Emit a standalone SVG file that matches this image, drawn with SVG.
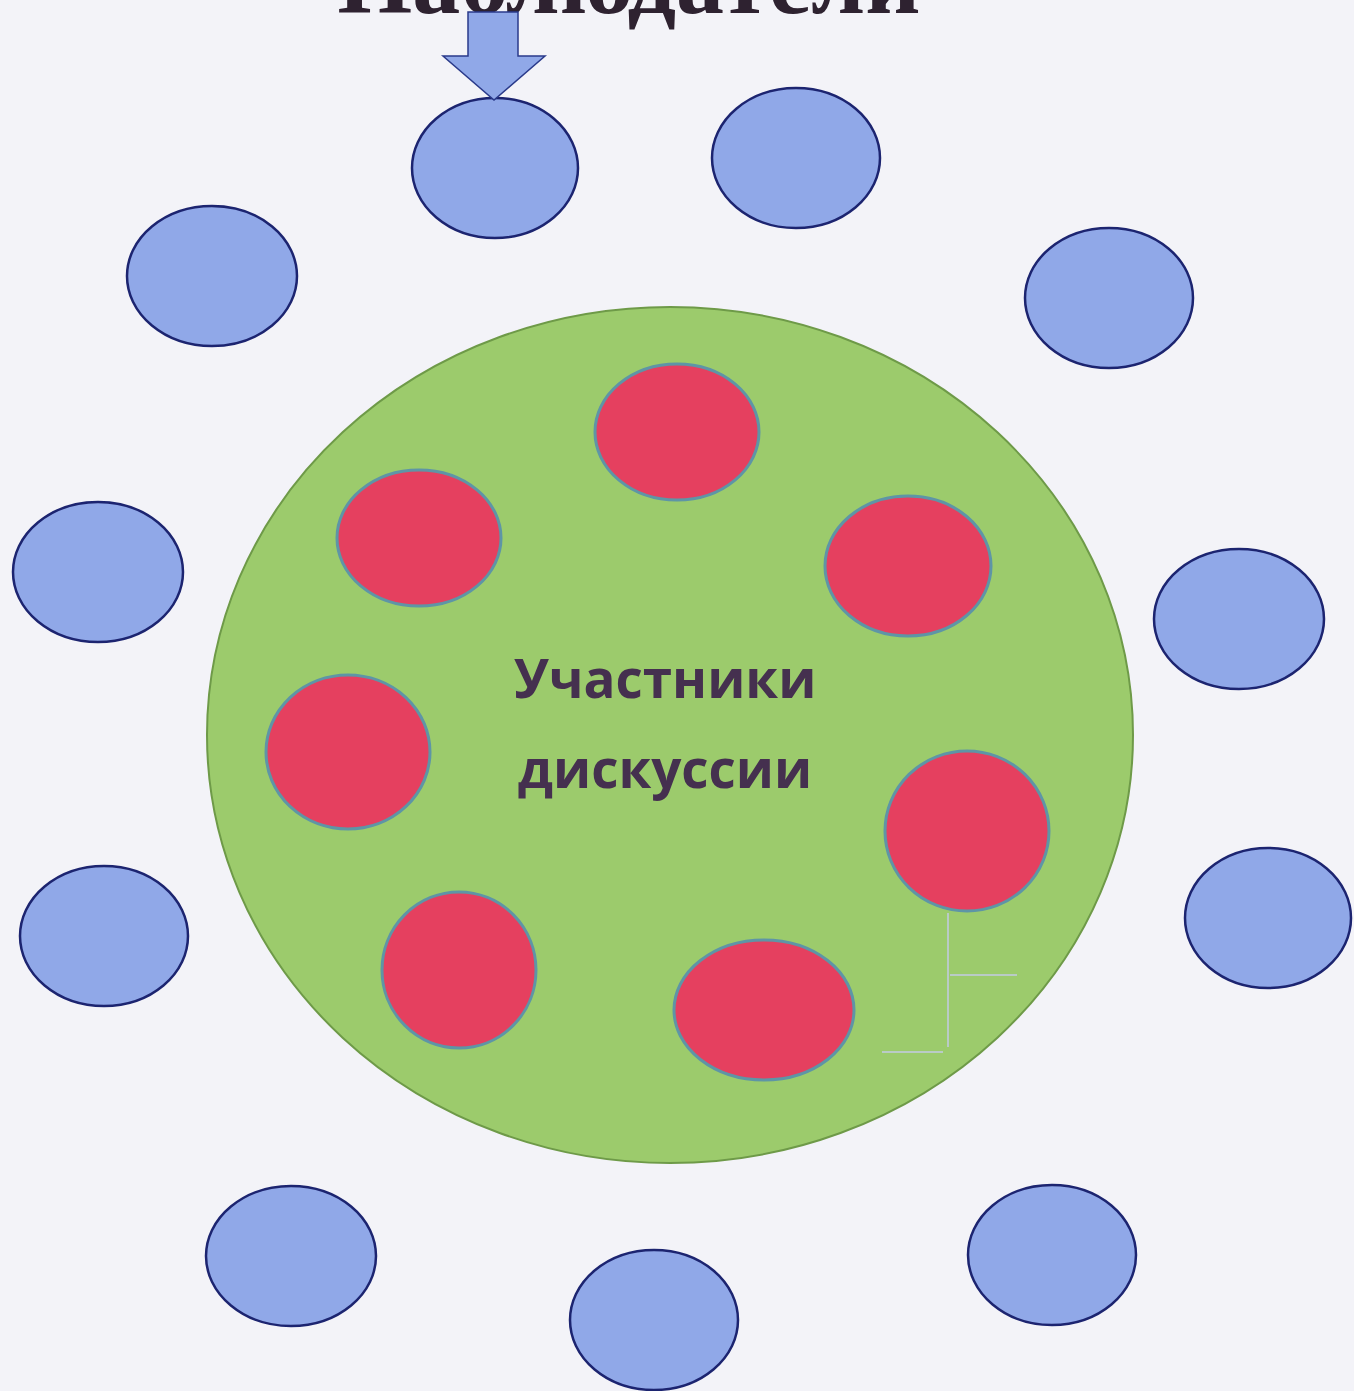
<svg xmlns="http://www.w3.org/2000/svg" width="1354" height="1391" viewBox="0 0 1354 1391">
<style>
.obs{fill:#90a8e8;stroke:#1c2470;stroke-width:2.5}
.par{fill:#e5405f;stroke:#5e95a6;stroke-width:3}
.title{font-family:"Liberation Serif",serif;font-weight:bold;font-size:96px;fill:#2e2230}
.lbl{font-family:"Open Sans","DejaVu Sans",sans-serif;font-weight:bold;font-size:53px;fill:#45304f}
.faint{stroke:#b9cbc6;stroke-width:2;fill:none}
</style>
<rect width="1354" height="1391" fill="#f3f3f8"/>
<g id="title"><text class="title" x="629" y="13" text-anchor="middle">Наблюдатели</text></g>
<g id="discussion-area">
<ellipse cx="670" cy="735" rx="463" ry="428" fill="#9ccb6c" stroke="#6e9a48" stroke-width="2"/>
<text class="lbl" x="665" y="698" text-anchor="middle">Участники</text>
<text class="lbl" x="665" y="788" text-anchor="middle">дискуссии</text>
</g>
<g id="participants">
<ellipse id="p1" class="par" cx="677" cy="432" rx="82" ry="68"/>
<ellipse id="p2" class="par" cx="419" cy="538" rx="82" ry="68"/>
<ellipse id="p3" class="par" cx="908" cy="566" rx="83" ry="70"/>
<ellipse id="p4" class="par" cx="348" cy="752" rx="82" ry="77"/>
<ellipse id="p5" class="par" cx="967" cy="831" rx="82" ry="80"/>
<ellipse id="p6" class="par" cx="459" cy="970" rx="77" ry="78"/>
<ellipse id="p7" class="par" cx="764" cy="1010" rx="90" ry="70"/>
</g>
<g id="faint-lines">
<path class="faint" d="M948 913 V1047 M950 975 H1017 M882 1052 H943"/>
</g>
<g id="observers">
<ellipse id="o1" class="obs" cx="495" cy="168" rx="83" ry="70"/>
<ellipse id="o2" class="obs" cx="796" cy="158" rx="84" ry="70"/>
<ellipse id="o3" class="obs" cx="212" cy="276" rx="85" ry="70"/>
<ellipse id="o4" class="obs" cx="1109" cy="298" rx="84" ry="70"/>
<ellipse id="o5" class="obs" cx="98" cy="572" rx="85" ry="70"/>
<ellipse id="o6" class="obs" cx="1239" cy="619" rx="85" ry="70"/>
<ellipse id="o7" class="obs" cx="104" cy="936" rx="84" ry="70"/>
<ellipse id="o8" class="obs" cx="1268" cy="918" rx="83" ry="70"/>
<ellipse id="o9" class="obs" cx="291" cy="1256" rx="85" ry="70"/>
<ellipse id="o10" class="obs" cx="1052" cy="1255" rx="84" ry="70"/>
<ellipse id="o11" class="obs" cx="654" cy="1320" rx="84" ry="70"/>
</g>
<g id="connectors">
<path d="M468 12 H518 V56 H545 L494 100 L443 56 H468 Z" fill="#90a8e8" stroke="#2a3a8a" stroke-width="1.5"/>
</g>
</svg>
